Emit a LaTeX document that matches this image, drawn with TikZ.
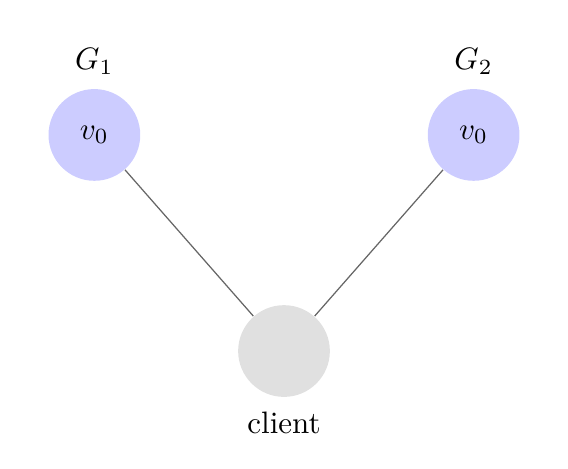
\documentclass[tikz,border=0pt]{standalone}
\usepackage{tikz}
\usetikzlibrary{positioning}

\begin{document}
\begin{tikzpicture}[
  graph/.style={circle, fill=blue!20, minimum size=1.04cm, inner sep=0pt},
  client/.style={circle, fill=black!12, minimum size=1.04cm, inner sep=0pt},
  link/.style={draw=black!60, thin}]
  \useasboundingbox (0,0) rectangle (6.44,5.31);
  \node[graph, label={[label distance=1pt]above:$G_1$}] (g1) at (1.07,3.78) {$v_0$};
  \node[graph, label={[label distance=1pt]above:$G_2$}] (g2) at (5.37,3.78) {$v_0$};
  \node[client, label={[label distance=1pt]below:client}] (cl) at (3.22,1.33) {};
  \draw[link] (g1) -- (cl);
  \draw[link] (g2) -- (cl);
\end{tikzpicture}
\end{document}
